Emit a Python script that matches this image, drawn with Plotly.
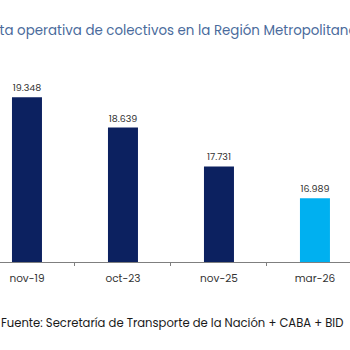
import plotly.graph_objects as go

categories = ["nov-19", "oct-23", "nov-25", "mar-26"]
values = [19348, 18639, 17731, 16989]
colors = ["#0c2160", "#0c2160", "#0c2160", "#00b0f0"]
title_text = "Flota operativa de colectivos en la Región Metropolitana"
source_text = "Fuente: Secretaría de Transporte de la Nación + CABA + BID"

font_family = "Poppins, 'Open Sans', sans-serif"

fig = go.Figure(go.Bar(
    x=categories,
    y=values,
    marker=dict(color=colors, line=dict(width=0)),
    width=0.3125,
    texttemplate="%{y:,}",
    textposition="outside",
    textfont=dict(size=9.5, color="#333333", family=font_family),
    cliponaxis=False,
))

fig.update_layout(
    width=350, height=350, autosize=False,
    margin=dict(l=0, r=0, t=62, b=88),
    paper_bgcolor="white", plot_bgcolor="white",
    separators=",.",
    showlegend=False,
    font=dict(family=font_family),
    xaxis=dict(
        type="category",
        range=[-0.281, 3.365],
        showline=True, linecolor="#7f7f7f", linewidth=1,
        ticks="outside", tickson="boundaries", ticklen=3, tickcolor="#7f7f7f",
        ticklabelstandoff=6,
        tickfont=dict(size=10.5, color="#333333", family=font_family),
        showgrid=False, zeroline=False,
    ),
    yaxis=dict(
        range=[15500, 20170], visible=False, showgrid=False, zeroline=False,
    ),
    annotations=[
        dict(text=title_text, xref="paper", yref="paper", x=0, y=1,
             xanchor="left", yanchor="middle", xshift=-21, yshift=32,
             showarrow=False,
             font=dict(size=13.4, color="#4a6b9c", family=font_family)),
        dict(text=source_text, xref="paper", yref="paper", x=0, y=0,
             xanchor="left", yanchor="middle", xshift=-1, yshift=-61,
             showarrow=False,
             font=dict(size=11.6, color="#1a1a1a", family=font_family)),
    ],
)

fig.write_html("out.html")
